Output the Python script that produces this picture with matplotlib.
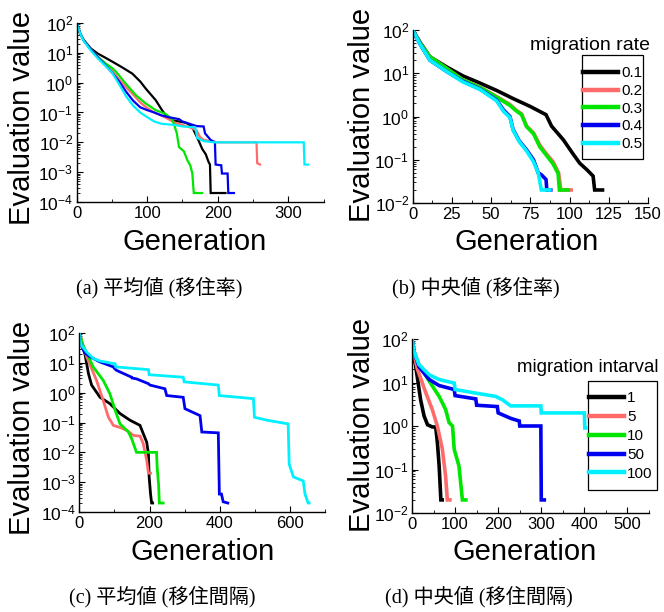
import matplotlib
matplotlib.use("Agg")
import matplotlib.pyplot as plt
from matplotlib.ticker import MultipleLocator, LogLocator, NullFormatter, FuncFormatter
from matplotlib.patches import Rectangle
import numpy as np

plt.rcParams['font.family'] = ['Liberation Sans', 'DejaVu Sans']
plt.rcParams['mathtext.fontset'] = 'custom'
plt.rcParams['mathtext.rm'] = 'Liberation Sans'
plt.rcParams['mathtext.it'] = 'Liberation Sans:italic'
plt.rcParams['mathtext.bf'] = 'Liberation Sans:bold'

# ---------------- data ----------------
rate_labels = ["0.1", "0.2", "0.3", "0.4", "0.5"]
interval_labels = ["1", "5", "10", "50", "100"]
colors = ["#000000", "#FF6B6B", "#00E600", "#0000F0", "#00F0FF"]

# (a) mean, migration rate
a_x_01 = [0, 5, 10, 20, 30, 40, 55, 65, 79, 90, 98, 112, 121, 128, 135, 145, 155, 163, 166, 170, 174, 178, 183, 187, 189, 190, 211]
a_y_01 = [100, 45, 27, 14, 9.4, 7, 4.4, 3.2, 2, 1.1, 0.63, 0.26, 0.12, 0.07, 0.055, 0.05, 0.045, 0.035, 0.025, 0.016, 0.01, 0.006, 0.004, 0.0022, 0.0018, 0.0002, 0.0002]
a_x_02 = [0, 5, 10, 20, 30, 40, 50, 60, 70, 80, 90, 100, 110, 120, 130, 140, 150, 160, 170, 175, 180, 190, 200, 255, 256, 260]
a_y_02 = [100, 44, 26, 13, 7.3, 4.5, 2.6, 1.3, 0.7, 0.4, 0.22, 0.14, 0.1, 0.08, 0.06, 0.045, 0.038, 0.032, 0.025, 0.015, 0.012, 0.011, 0.01, 0.01, 0.002, 0.0018]
a_x_03 = [0, 5, 10, 20, 30, 40, 51, 56, 70, 84, 98, 112, 126, 135, 138, 142, 145, 152, 157, 161, 164, 166, 178]
a_y_03 = [100, 44, 26, 13, 7.3, 4.6, 3.0, 2.3, 0.9, 0.38, 0.2, 0.12, 0.09, 0.06, 0.04, 0.02, 0.007, 0.005, 0.0025, 0.0017, 0.0009, 0.0002, 0.0002]
a_x_04 = [0, 5, 10, 20, 30, 40, 50, 60, 70, 80, 90, 100, 110, 120, 130, 145, 150, 170, 180, 182, 190, 196, 197, 205, 206, 214, 215, 223]
a_y_04 = [100, 44, 26, 13, 7, 4, 2.2, 1.1, 0.5, 0.25, 0.15, 0.12, 0.1, 0.08, 0.07, 0.06, 0.05, 0.035, 0.034, 0.02, 0.012, 0.01, 0.0018, 0.0017, 0.0009, 0.0009, 0.0002, 0.0002]
a_x_05 = [0, 5, 10, 20, 30, 40, 50, 60, 70, 80, 90, 100, 110, 120, 140, 150, 168, 171, 180, 195, 322, 323, 328]
a_y_05 = [100, 44, 25, 12, 6.5, 3.8, 2.2, 0.9, 0.35, 0.17, 0.1, 0.07, 0.05, 0.042, 0.038, 0.034, 0.032, 0.014, 0.011, 0.01, 0.01, 0.0018, 0.0018]

# (b) median, migration rate
b_x_01 = [0, 5, 11, 21.6, 32, 43, 53.5, 64, 75, 85, 88.5, 96, 102, 106.5, 111, 115, 116, 121]
b_y_01 = [100, 50, 24, 14, 8.7, 5.9, 4, 2.6, 1.7, 1.1, 0.6, 0.29, 0.14, 0.083, 0.059, 0.042, 0.02, 0.02]
b_x_02 = [0, 5, 11, 21.6, 32, 43, 53.5, 62, 66, 69.4, 72.6, 77, 81, 85, 89.5, 93, 94.5, 101]
b_y_02 = [100, 48, 24, 13, 7, 4.8, 2.9, 1.9, 1.4, 1.15, 0.6, 0.42, 0.22, 0.14, 0.09, 0.05, 0.02, 0.02]
b_x_03 = [0, 5, 11, 21.6, 32, 43, 53.5, 62, 66, 69.4, 72.6, 77, 81, 85, 89.5, 92.7, 93.5, 99]
b_y_03 = [100, 48, 24, 13, 7, 4.7, 2.8, 1.8, 1.35, 1.1, 0.58, 0.4, 0.2, 0.13, 0.08, 0.048, 0.02, 0.02]
b_x_04 = [0, 5, 11, 21.6, 32, 43, 53.5, 58, 62, 64, 68, 72.6, 77, 80, 82, 85, 85.5, 88]
b_y_04 = [100, 45, 20, 11, 6.5, 4.3, 2.4, 1.4, 1.0, 0.5, 0.27, 0.17, 0.1, 0.05, 0.045, 0.035, 0.02, 0.02]
b_x_05 = [0, 5, 11, 21.6, 32, 43, 53.5, 58, 62, 64, 68, 72.6, 77, 80, 82, 87.5]
b_y_05 = [100, 45, 20, 11, 6.3, 4.2, 2.3, 1.3, 0.95, 0.48, 0.26, 0.16, 0.09, 0.05, 0.02, 0.02]

# (c) mean, migration interval
c_x_01 = [0, 5, 16, 26, 35, 59, 87, 116, 144, 173, 182, 192, 197, 199, 203, 206, 209]
c_y_01 = [100, 50, 20, 4.4, 1.8, 0.7, 0.43, 0.2, 0.12, 0.08, 0.043, 0.022, 0.009, 0.0015, 0.0004, 0.0002, 0.0002]
c_x_05 = [0, 21, 49, 68, 83, 97, 116, 135, 154, 173, 182, 192, 197, 203]
c_y_05 = [100, 16, 2.6, 0.55, 0.15, 0.08, 0.068, 0.055, 0.037, 0.035, 0.02, 0.0054, 0.002, 0.002]
c_x_10 = [0, 10, 40, 68, 87, 102, 116, 140, 149, 163, 220, 222, 226, 228, 239]
c_y_10 = [100, 40, 7.2, 2.6, 0.93, 0.26, 0.09, 0.048, 0.029, 0.01, 0.01, 0.003, 0.0008, 0.0002, 0.0002]
c_x_50 = [0, 5, 15, 30, 59, 97, 100, 106, 149, 150, 163, 197, 201, 244, 249, 296, 301, 344, 349, 396, 399, 405, 410, 423]
c_y_50 = [100, 40, 22, 16, 10.7, 7.3, 6.5, 5.6, 3.3, 3.1, 2.9, 2, 1.8, 1.35, 0.8, 0.7, 0.29, 0.17, 0.048, 0.045, 0.0004, 0.0004, 0.00022, 0.0002]
c_x_100 = [0, 5, 21, 40, 59, 102, 104, 197, 199, 296, 299, 396, 399, 496, 499, 534, 595, 598, 610, 638, 643, 652, 655]
c_y_100 = [100, 40, 23, 14, 11.5, 9.3, 7.3, 5.9, 4, 3.3, 2.3, 1.8, 0.8, 0.63, 0.15, 0.12, 0.09, 0.004, 0.0015, 0.0011, 0.0004, 0.0002, 0.0002]

# (d) median, migration interval
d_x_01 = [0, 5, 12, 20, 28, 36, 47, 55, 59, 63, 67, 70]
d_y_01 = [100, 40, 14, 4, 1.7, 1.07, 0.95, 0.95, 0.41, 0.12, 0.02, 0.02]
d_x_05 = [0, 5, 12, 32, 47, 59, 70.5, 78, 82, 88]
d_y_05 = [100, 45, 21, 5.8, 2.4, 0.98, 0.29, 0.07, 0.02, 0.02]
d_x_10 = [0, 5, 16, 40, 63, 78, 86, 94, 98, 109, 117, 125]
d_y_10 = [100, 50, 26, 10.7, 4.8, 2.4, 1.2, 1.0, 0.29, 0.12, 0.02, 0.02]
d_x_50 = [0, 5, 16, 40, 63, 98, 100, 148, 150, 198, 200, 229, 249, 250, 299, 300, 307]
d_y_50 = [100, 50, 23, 11.7, 8.5, 6.9, 5, 4.2, 3, 2.8, 2, 1.5, 1.3, 1.0, 1.0, 0.02, 0.02]
d_x_100 = [0, 5, 16, 40, 63, 98, 100, 148, 194, 210, 229, 299, 300, 400, 401, 403]
d_y_100 = [100, 50, 26, 15, 11.7, 9.7, 6.9, 5.7, 4.8, 4, 2.9, 2.9, 2.0, 2.0, 0.9, 0.9]

# ---------------- figure ----------------
W, H = 664, 612
fig = plt.figure(figsize=(W / 100, H / 100), dpi=100)


def fx(px):
    return px / W


def fy(py):
    return 1 - py / H


def make_axes(l, r, t, b):
    return fig.add_axes([l / W, 1 - b / H, (r - l) / W, (b - t) / H])


def log_fmt(v, pos):
    e = int(round(np.log10(v)))
    return r'$\mathdefault{10}^{\mathdefault{%d}}$' % e


def style(ax, xlim, ylim, xmaj, xmin, xl_c, yl_c):
    ax.set_yscale('log')
    ax.set_xlim(*xlim)
    ax.set_ylim(*ylim)
    ax.xaxis.set_major_locator(MultipleLocator(xmaj))
    ax.xaxis.set_minor_locator(MultipleLocator(xmin))
    ax.yaxis.set_major_locator(LogLocator(base=10, numticks=20))
    ax.yaxis.set_minor_locator(LogLocator(base=10, subs=range(2, 10), numticks=20))
    ax.yaxis.set_major_formatter(FuncFormatter(log_fmt))
    ax.yaxis.set_minor_formatter(NullFormatter())
    for s in ('top', 'right'):
        ax.spines[s].set_visible(False)
    for s in ('left', 'bottom'):
        ax.spines[s].set_linewidth(1.0)
    ax.tick_params(which='major', direction='in', length=4, width=0.8, pad=3)
    ax.tick_params(axis='x', which='major', labelsize=12)
    ax.tick_params(axis='y', which='major', labelsize=12.5, pad=2.5)
    ax.tick_params(which='minor', direction='in', length=2.5, width=0.6)
    ax.set_xlabel('Generation', fontsize=21, va='center')
    ax.set_ylabel('Evaluation value', fontsize=21, va='center')
    ax.xaxis.set_label_coords(fx(xl_c[0]), fy(xl_c[1]), transform=fig.transFigure)
    ax.yaxis.set_label_coords(fx(yl_c[0]), fy(yl_c[1]), transform=fig.transFigure)


axA = make_axes(76.7, 323.5, 23, 202)
axB = make_axes(412.7, 648, 30, 203)
axC = make_axes(79.3, 325, 333, 512)
axD = make_axes(412, 649, 339, 513)

style(axA, (0, 350), (1e-4, 1e2), 100, 50, (195, 242), (22.5, 118))
style(axB, (0, 150), (1e-2, 1e2), 25, 12.5, (527, 242), (361.5, 115))
style(axC, (0, 700), (1e-4, 1e2), 200, 100, (203, 552), (22.5, 428))
style(axD, (0, 550), (1e-2, 1e2), 100, 50, (525, 552), (361.5, 425))

for xs, ys, c in zip([a_x_01, a_x_02, a_x_03, a_x_04, a_x_05],
                     [a_y_01, a_y_02, a_y_03, a_y_04, a_y_05], colors):
    axA.plot(xs, ys, color=c, lw=1.6, solid_joinstyle='miter')

linesB = []
for xs, ys, c, lab in zip([b_x_01, b_x_02, b_x_03, b_x_04, b_x_05],
                          [b_y_01, b_y_02, b_y_03, b_y_04, b_y_05], colors, rate_labels):
    ln, = axB.plot(xs, ys, color=c, lw=2.6, label=lab, solid_joinstyle='miter')
    linesB.append(ln)

for xs, ys, c in zip([c_x_01, c_x_05, c_x_10, c_x_50, c_x_100],
                     [c_y_01, c_y_05, c_y_10, c_y_50, c_y_100], colors):
    axC.plot(xs, ys, color=c, lw=2.0, solid_joinstyle='miter')

linesD = []
for xs, ys, c, lab in zip([d_x_01, d_x_05, d_x_10, d_x_50, d_x_100],
                          [d_y_01, d_y_05, d_y_10, d_y_50, d_y_100], colors, interval_labels):
    ln, = axD.plot(xs, ys, color=c, lw=2.6, label=lab, solid_joinstyle='miter')
    linesD.append(ln)


def add_legend(ax, lines, box, handle_x, mid_y, spacing):
    l, r, t, b = box
    rect = Rectangle((fx(l), fy(b)), (r - l) / W, (b - t) / H, transform=fig.transFigure,
                     facecolor='white', edgecolor='black', linewidth=0.9, zorder=4, clip_on=False)
    ax.add_patch(rect)
    leg = ax.legend(handles=lines, loc='center left', bbox_to_anchor=(fx(handle_x), fy(mid_y)),
                    bbox_transform=fig.transFigure, fontsize=11, frameon=False,
                    borderpad=0, borderaxespad=0, handlelength=2.3,
                    handletextpad=0.2, labelspacing=spacing)
    leg.set_zorder(5)
    for h in leg.get_lines():
        h.set_linewidth(3.2)
    return leg


add_legend(axB, linesB, (581.7, 643.3, 55, 159), 582.7, 108.8, 0.24)
add_legend(axD, linesD, (588, 657, 381, 490), 589, 436, 0.32)

fig.text(fx(530), fy(45), 'migration rate', fontsize=14, ha='left', va='center')
fig.text(fx(517), fy(368), 'migration intarval', fontsize=13.4, ha='left', va='center')

cap_font = ['Liberation Serif', 'Noto Sans CJK JP']
fig.text(fx(159), fy(288), '(a) 平均値 (移住率)', fontsize=14.5, family=cap_font, ha='center', va='center')
fig.text(fx(476), fy(288), '(b) 中央値 (移住率)', fontsize=14.5, family=cap_font, ha='center', va='center')
fig.text(fx(162), fy(597), '(c) 平均値 (移住間隔)', fontsize=14.5, family=cap_font, ha='center', va='center')
fig.text(fx(479), fy(597), '(d) 中央値 (移住間隔)', fontsize=14.5, family=cap_font, ha='center', va='center')

fig.savefig('out.png', dpi=100)
